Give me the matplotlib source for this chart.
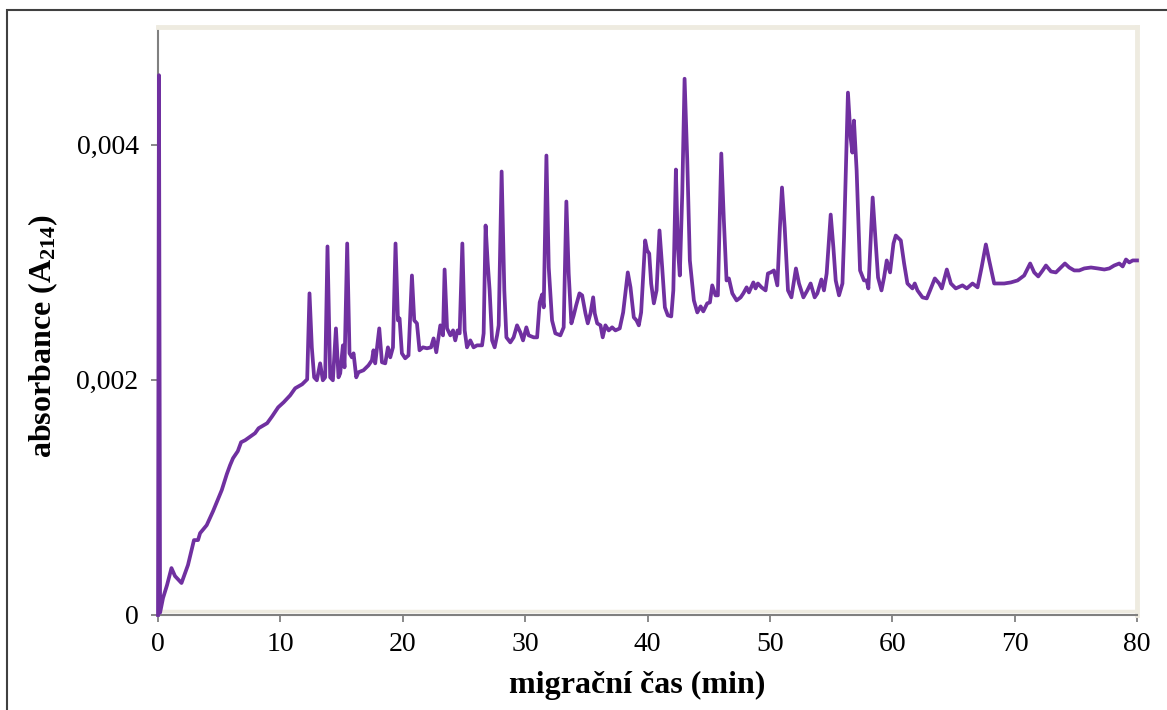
import numpy as np
import matplotlib
matplotlib.use('Agg')
import matplotlib.pyplot as plt
from matplotlib.patches import Rectangle

# migration time (min) and absorbance (x 1e-3)
time_min = [
    0.00, 0.08, 0.17, 0.41, 0.74, 1.10, 1.39, 1.92, 2.45, 2.94, 3.27, 3.44, 3.98, 4.50,
    5.21, 5.62, 5.89, 6.13, 6.52, 6.79, 7.12, 7.93, 8.22, 8.92, 9.33, 9.82, 10.27, 10.80,
    11.21, 11.78, 12.19,
    12.38, 12.57, 12.76, 12.98, 13.25, 13.47, 13.66, 13.85, 14.07, 14.29, 14.54, 14.75,
    14.89, 15.11, 15.24, 15.46, 15.65, 15.84, 15.98, 16.20, 16.38, 16.79, 17.20, 17.48,
    17.61, 17.75, 18.08, 18.30, 18.57, 18.79, 18.98, 19.20, 19.41, 19.61, 19.74, 19.93,
    20.20, 20.47, 20.75, 20.94, 21.16, 21.37, 21.65, 21.98, 22.31, 22.52, 22.74, 23.07,
    23.29, 23.42, 23.62, 23.89, 24.11, 24.29, 24.48, 24.65, 24.87, 25.06, 25.25, 25.52,
    25.79, 26.07, 26.48, 26.61, 26.77, 26.94, 27.10, 27.30, 27.51, 27.71, 27.84, 28.08,
    28.30, 28.47, 28.79, 29.06, 29.34, 29.61, 29.83, 30.10, 30.29, 30.70, 30.98, 31.19,
    31.39, 31.52, 31.74, 31.93, 32.20, 32.47, 32.88, 33.15, 33.37, 33.56, 33.78, 33.97,
    34.17, 34.44, 34.66, 34.93, 35.12, 35.34, 35.56, 35.69, 35.89, 36.16, 36.34, 36.56,
    36.83, 37.11, 37.38, 37.73, 38.01, 38.39, 38.61, 38.88, 39.10, 39.29, 39.48, 39.81,
    39.97, 40.14, 40.30, 40.52, 40.74, 40.98, 41.20, 41.42, 41.66, 41.94, 42.11, 42.32,
    42.48, 42.64, 42.84, 43.03, 43.25, 43.46, 43.79, 44.07, 44.34, 44.56, 44.88, 45.10,
    45.29, 45.56, 45.75, 46.03, 46.24, 46.46, 46.65, 46.93, 47.28, 47.61, 47.83, 48.10,
    48.29, 48.65, 48.83, 49.02, 49.32, 49.65, 49.84, 50.06, 50.33, 50.61, 50.82, 50.99,
    51.21, 51.48, 51.76, 52.13, 52.38, 52.74, 53.06, 53.33, 53.66, 53.88, 54.21, 54.42,
    54.64, 54.97, 55.19, 55.38, 55.65, 55.93, 56.06, 56.38, 56.60, 56.74, 56.87, 57.09,
    57.37, 57.69, 57.91, 58.05, 58.40, 58.62, 58.84, 59.12, 59.33, 59.55, 59.82, 60.10,
    60.29, 60.70, 60.97, 61.24, 61.65, 61.84, 62.06, 62.47, 62.82, 63.09, 63.48, 63.83,
    64.05, 64.46, 64.79, 65.19, 65.74, 66.09, 66.56, 66.97, 67.30, 67.65, 67.92, 68.33,
    69.15, 69.69, 70.24, 70.78, 71.27, 71.60, 71.93, 72.29, 72.56, 72.97, 73.37, 73.78,
    74.11, 74.46, 74.87, 75.28, 75.69, 76.24, 76.79, 77.33, 77.74, 78.14, 78.55, 78.83,
    79.10, 79.37, 79.65, 80.00,
]
absorb_milli = [
    0.000, 4.590, 0.020, 0.144, 0.255, 0.399, 0.331, 0.272, 0.425, 0.637, 0.637, 0.696,
    0.764, 0.883, 1.062, 1.197, 1.274, 1.333, 1.393, 1.469, 1.486, 1.546, 1.588, 1.631,
    1.690, 1.766, 1.809, 1.868, 1.928, 1.962, 2.004,
    2.735, 2.276, 2.021, 1.996, 2.140, 1.996, 2.021, 3.134, 2.021, 1.996, 2.437, 2.021,
    2.055, 2.293, 2.106, 3.159, 2.225, 2.191, 2.225, 2.021, 2.064, 2.081, 2.123, 2.166,
    2.251, 2.140, 2.437, 2.149, 2.140, 2.276, 2.191, 2.276, 3.159, 2.505, 2.522, 2.225,
    2.183, 2.208, 2.887, 2.505, 2.480, 2.251, 2.276, 2.268, 2.276, 2.352, 2.234, 2.463,
    2.378, 2.938, 2.437, 2.378, 2.420, 2.335, 2.420, 2.395, 3.159, 2.420, 2.276, 2.335,
    2.276, 2.293, 2.293, 2.395, 3.312, 2.998, 2.760, 2.335, 2.276, 2.378, 2.463, 3.771,
    2.760, 2.361, 2.318, 2.361, 2.463, 2.403, 2.335, 2.446, 2.378, 2.361, 2.361, 2.658,
    2.726, 2.616, 3.907, 2.955, 2.505, 2.395, 2.378, 2.446, 3.516, 2.904, 2.480, 2.548,
    2.633, 2.735, 2.718, 2.565, 2.480, 2.565, 2.701, 2.565, 2.480, 2.463, 2.361, 2.463,
    2.420, 2.446, 2.420, 2.437, 2.573, 2.913, 2.786, 2.531, 2.505, 2.463, 2.573, 3.185,
    3.100, 3.074, 2.819, 2.650, 2.760, 3.270, 2.955, 2.616, 2.548, 2.539, 2.760, 3.788,
    3.125, 2.887, 3.584, 4.560, 3.864, 3.015, 2.675, 2.573, 2.624, 2.582, 2.650, 2.658,
    2.803, 2.718, 2.718, 3.924, 3.355, 2.845, 2.862, 2.735, 2.675, 2.701, 2.735, 2.786,
    2.743, 2.828, 2.777, 2.819, 2.786, 2.760, 2.904, 2.913, 2.930, 2.803, 3.295, 3.635,
    3.295, 2.760, 2.701, 2.947, 2.819, 2.701, 2.760, 2.819, 2.701, 2.735, 2.853, 2.760,
    2.904, 3.405, 3.125, 2.845, 2.718, 2.819, 3.210, 4.442, 4.059, 3.932, 4.204, 3.779,
    2.930, 2.845, 2.845, 2.777, 3.550, 3.210, 2.870, 2.760, 2.870, 3.015, 2.913, 3.159,
    3.227, 3.185, 2.989, 2.819, 2.777, 2.819, 2.760, 2.701, 2.692, 2.760, 2.862, 2.819,
    2.777, 2.938, 2.819, 2.777, 2.803, 2.777, 2.819, 2.786, 2.955, 3.151, 3.015, 2.819,
    2.819, 2.828, 2.845, 2.887, 2.989, 2.913, 2.879, 2.930, 2.972, 2.921, 2.913, 2.955,
    2.989, 2.955, 2.930, 2.930, 2.947, 2.955, 2.947, 2.938, 2.947, 2.972, 2.989, 2.964,
    3.023, 2.998, 3.015, 3.015,
]

x_ticks = [0, 10, 20, 30, 40, 50, 60, 70, 80]
y_ticks = [0, 0.002, 0.004]
y_ticklabels = ['0', '0,002', '0,004']

plt.rcParams['font.family'] = ['Liberation Serif', 'DejaVu Serif']
plt.rcParams['mathtext.default'] = 'regular'

t = np.array(time_min)
A = np.array(absorb_milli) * 1e-3

fig = plt.figure(figsize=(11.67, 7.10), dpi=100)
ax = fig.add_axes([158/1167, 1 - 615/710, (1137 - 158)/1167, (615 - 27)/710])

ax.plot(t, A, color='#7030A0', lw=2.7, solid_joinstyle='round', clip_on=False, zorder=3)

ax.set_xlim(0, 80)
ax.set_ylim(0, 0.005)
ax.set_xticks(x_ticks)
ax.set_yticks(y_ticks)
ax.set_yticklabels(y_ticklabels)
ax.tick_params(direction='out', length=5, width=1.3, color='#808080',
               labelsize=20, pad=7)
ax.tick_params(axis='y', pad=9)

for side in ['top', 'right']:
    ax.spines[side].set_color('#EEEBE0')
    ax.spines[side].set_linewidth(3.5)
for side in ['left', 'bottom']:
    ax.spines[side].set_color('#808080')
    ax.spines[side].set_linewidth(1.5)
# light band just above the x axis, as in the original frame
ax.axhline(0.00003, color='#EEEBE0', lw=2.5, zorder=1)

ax.set_xlabel('migrační čas (min)', fontsize=23, fontweight='bold', labelpad=10)
ax.set_ylabel('absorbance (A$_{214}$)', fontsize=23, fontweight='bold', labelpad=12)
ax.xaxis.label.set_x(0.489)
ax.yaxis.label.set_y(0.474)

# outer frame round the whole chart
fig.patches.append(Rectangle((7/1167, -0.2), 1.3, 1.2 - 10/710, transform=fig.transFigure,
                             fill=False, edgecolor='#404040', lw=1.5))

fig.savefig('out.png', dpi=100)
